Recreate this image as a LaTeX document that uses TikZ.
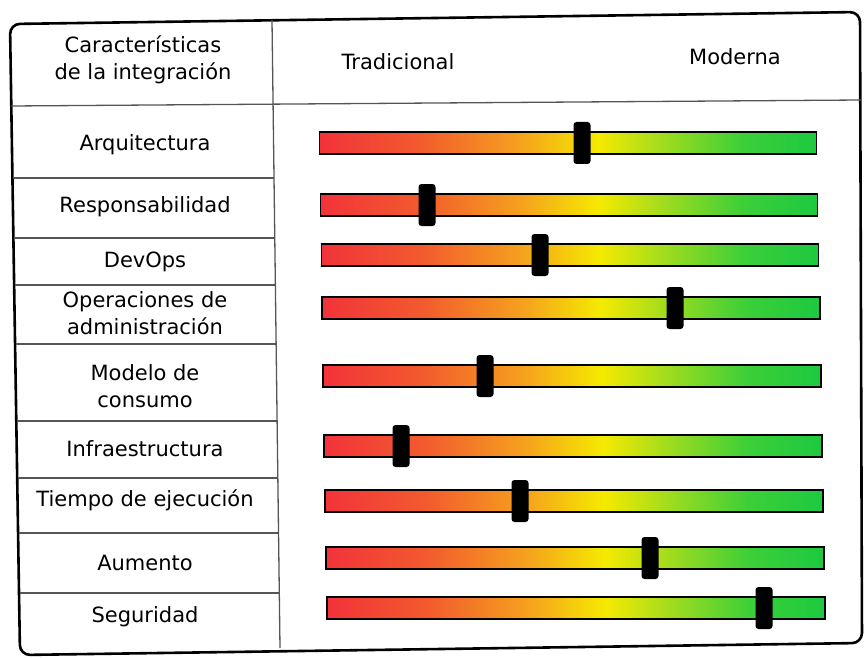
\documentclass[tikz,border=0pt]{standalone}
\usepackage{fontspec}
\setmainfont{DejaVu Sans}
\definecolor{rojo}{HTML}{F2333A}
\definecolor{rojizo}{HTML}{F25A2E}
\definecolor{naranja}{HTML}{F5A01E}
\definecolor{amarillo}{HTML}{F5EA00}
\definecolor{verdeclaro}{HTML}{9ADB20}
\definecolor{verde}{HTML}{3CCF38}
\definecolor{verdeosc}{HTML}{1DC940}
\definecolor{linea}{HTML}{555555}
\pgfdeclarehorizontalshading{semaforo}{100bp}{%
    color(0bp)=(rojo); color(25bp)=(rojo); color(35bp)=(rojizo);
    color(45bp)=(naranja); color(53bp)=(amarillo); color(60bp)=(verdeclaro);
    color(67.5bp)=(verde); color(75bp)=(verdeosc); color(100bp)=(verdeosc)}
\tikzset{%
    marco/.style={line width=2.6pt, rounded corners=10pt},
    fila/.style={draw=linea, line width=1.3pt},
    celda/.style={font=\fontsize{21}{27}\selectfont, align=center, inner sep=0pt},
    barra/.style={draw=black, line width=1.3pt, shading=semaforo,
        minimum height=22pt, inner sep=0pt},
    perilla/.style={fill=black, rounded corners=3pt, minimum width=17pt,
        minimum height=42pt, inner sep=0pt}
}

\begin{document}
\begin{tikzpicture}[x=1pt, y=-1pt]

    \useasboundingbox (0, 0) rectangle (865, 658);

    %%%%%%%%%%%%
    % Frame
    \draw[marco] (10, 24) -- (860, 12) -- (862, 643) -- (20, 655) -- cycle;
    \draw[fila] (272, 20) -- (280, 648);
    \draw[fila] (11, 106) -- (861, 100);
    \foreach \y in {178, 238, 285, 344, 421, 478, 533, 593}{%
        \draw[fila] ({11 + (\y - 24) / 63}, \y)
            -- ({272 + (\y - 20) / 78.5}, \y);
    };

    % Header
    \node[celda] (cabecera) at (143, 60)
        {Características\\de la integración};
    \node[celda] (tradicional) at (398, 62) {Tradicional};
    \node[celda] (moderna) at (735, 57) {Moderna};

    %%%%%%%%%%%%
    % Rows
    \foreach \i/\y/\texto in {%
        1/145/Arquitectura, 2/207/Responsabilidad, 3/262/DevOps,
        4/313/{Operaciones de\\administración}, 5/386/{Modelo de\\consumo},
        6/449/Infraestructura, 7/500/Tiempo de ejecución, 8/563/Aumento,
        9/617/Seguridad%
    }{%
        \node[celda] (caract-\i) at (145, \y) {\texto};
    };

    % Sliders
    \foreach \i/\y/\x/\w/\k in {%
        1/143/568/497/582, 2/205/569/497/427, 3/255/570/497/540,
        4/308/571/498/675, 5/376/572/498/485, 6/446/573/498/401,
        7/501/574/498/520, 8/558/575/498/650, 9/608/576/498/764%
    }{%
        \node[barra, minimum width=\w pt] (barra-\i) at (\x, \y) {};
        \node[perilla] (perilla-\i) at (\k, \y) {};
    };

\end{tikzpicture}
\end{document}
